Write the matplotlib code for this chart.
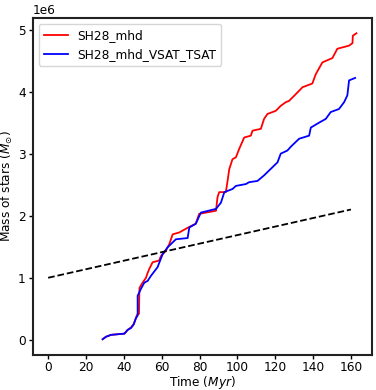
import matplotlib
matplotlib.use("Agg")
import matplotlib.pyplot as plt
import numpy as np

# time in Myr, stellar mass in units of 1e6 Msun
t_mhd = [28.8, 30.6, 33.2, 40.3, 41.2, 42.0, 43.8, 45.2, 46.4, 46.9, 48.0, 48.2,
         48.3, 49.9, 51.7, 52.6, 53.4, 55.2, 57.8, 58.7, 59.6, 62.3, 64.0, 65.8,
         69.3, 74.6, 78.0, 79.8, 88.7, 89.5, 90.4, 93.9, 94.8, 95.7, 97.4, 99.2,
         101.0, 103.6, 107.1, 108.0, 112.4, 114.1, 115.9, 120.3, 122.9, 125.6,
         127.3, 130.9, 134.4, 139.6, 141.4, 144.9, 150.2, 152.8, 159.0, 160.8,
         161.0, 162.9]
m_mhd = [0.01, 0.05, 0.08, 0.10, 0.13, 0.16, 0.20, 0.25, 0.35, 0.40, 0.42, 0.78,
         0.84, 0.92, 1.00, 1.08, 1.14, 1.25, 1.27, 1.28, 1.35, 1.44, 1.54, 1.70,
         1.73, 1.82, 1.87, 2.03, 2.08, 2.30, 2.38, 2.38, 2.56, 2.75, 2.91, 2.94,
         3.08, 3.26, 3.29, 3.37, 3.40, 3.56, 3.64, 3.69, 3.77, 3.83,
         3.85, 3.96, 4.07, 4.13, 4.28, 4.47, 4.54, 4.69, 4.74, 4.78,
         4.90, 4.94]

t_vsat = [28.8, 30.6, 33.2, 40.3, 42.0, 43.8, 45.2, 46.4, 47.3, 47.3, 49.0, 50.8,
          52.6, 54.3, 57.8, 60.5, 63.1, 67.5, 73.7, 74.6, 78.0, 80.7, 88.7, 91.3,
          93.1, 97.4, 99.2, 104.5, 106.2, 110.6, 114.1, 116.8, 121.2, 122.9, 126.4,
          128.5, 132.6, 137.9, 138.8, 143.2, 146.7, 149.3, 153.7, 156.4, 158.1,
          159.0, 162.2]
m_vsat = [0.01, 0.05, 0.08, 0.10, 0.16, 0.19, 0.25, 0.35, 0.39, 0.71, 0.82, 0.92,
          0.95, 1.03, 1.17, 1.38, 1.49, 1.62, 1.64, 1.81, 1.87, 2.05, 2.11, 2.21,
          2.38, 2.43, 2.48, 2.51, 2.54, 2.56, 2.65, 2.73, 2.86, 3.00, 3.05,
          3.12, 3.24, 3.29, 3.42, 3.50, 3.56, 3.67, 3.72, 3.83, 3.94,
          4.18, 4.22]

t_ref = [0, 160]
m_ref = [1.0, 2.1]

fs = 8.7
fig = plt.figure(figsize=(3.76, 3.9), dpi=100)
ax = fig.add_axes([0.087, 0.091, 0.902, 0.863])

ax.plot(t_mhd, np.array(m_mhd) * 1e6, color='red', lw=1.3, label='SH28_mhd')
ax.plot(t_vsat, np.array(m_vsat) * 1e6, color='blue', lw=1.3, label='SH28_mhd_VSAT_TSAT')
ax.plot(t_ref, np.array(m_ref) * 1e6, color='black', ls='--', lw=1.3)

ax.set_xlabel('Time ($Myr$)', fontsize=fs, labelpad=0)
ax.set_ylabel(r'Mass of stars ($M_{\odot}$)', fontsize=fs, labelpad=2)
ax.set_xticks([0, 20, 40, 60, 80, 100, 120, 140, 160])
ax.set_yticks([0, 1e6, 2e6, 3e6, 4e6, 5e6])
ax.tick_params(labelsize=fs, width=1.0, length=3, pad=2)
ax.yaxis.get_offset_text().set_fontsize(fs)
for s in ax.spines.values():
    s.set_linewidth(1.5)
    s.set_color('#222222')
ax.legend(loc='upper left', fontsize=fs)

fig.savefig('out.png', dpi=100)
